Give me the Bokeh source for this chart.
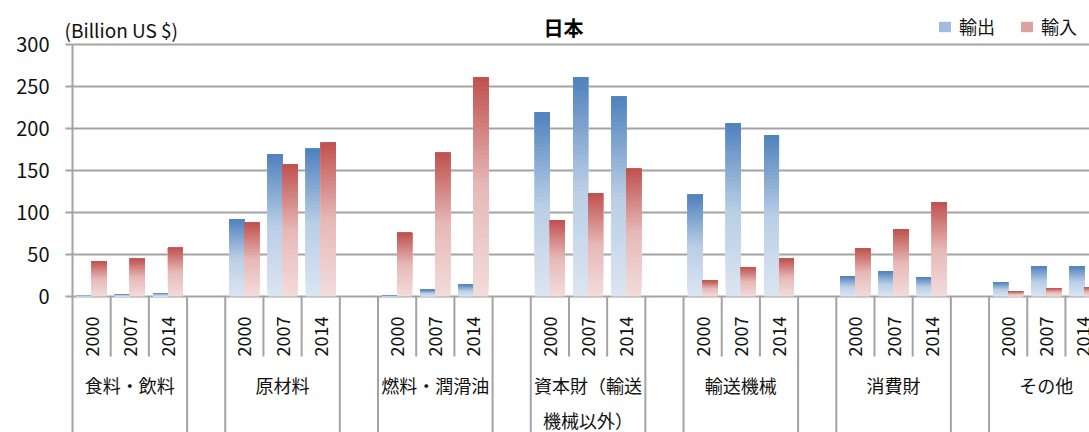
import numpy as np
from math import pi

from bokeh.plotting import figure
from bokeh.models import (ColumnDataSource, Range1d, FixedTicker, Label,
                          Legend, LegendItem)
from bokeh.core.properties import value
from bokeh.embed import file_html
from bokeh.resources import INLINE

# ---- data (Billion US $) -------------------------------------------------
categories = ["食料・飲料", "原材料", "燃料・潤滑油", "資本財（輸送\n機械以外）",
              "輸送機械", "消費財", "その他"]
years = ["2000", "2007", "2014"]

# values listed category by category, years 2000 / 2007 / 2014
exports = [1, 3, 4,
           92, 169, 176,
           1, 8, 14,
           219, 261, 238,
           121, 206, 192,
           24, 30, 23,
           17, 36, 36]
imports = [42, 45, 58,
           88, 157, 183,
           76, 171, 261,
           91, 123, 152,
           19, 35, 45,
           57, 80, 112,
           6, 10, 11]

y_ticks = [0, 50, 100, 150, 200, 250, 300]

# ---- layout constants ----------------------------------------------------
W, H = 1089, 432
LEFT = 72          # pixel x of the value axis
SLOT_PX = 38.19    # width of one year slot
ZERO_PX = 296      # pixel y of the zero line
PX_PER_UNIT = 0.84
STRIDE = len(years) + 1   # three years plus one empty spacer slot
BAR_W = 15 / SLOT_PX
N_LAYERS = 48

FONT = "Noto Sans CJK JP"
GRID = "#A3A3A3"
INK = "#111111"

# the frame covers the whole canvas; the value axis sits at x = 0
x_range = Range1d(-LEFT / SLOT_PX, (W - LEFT) / SLOT_PX)
y_bottom = -(H - ZERO_PX) / PX_PER_UNIT
y_range = Range1d(y_bottom, ZERO_PX / PX_PER_UNIT)

n_cat, n_year = len(categories), len(years)
slot_idx = np.array([STRIDE * g + k for g in range(n_cat) for k in range(n_year)])
centers = slot_idx + 0.5

BLUE_STOPS = [(0.0, (220, 230, 242)), (0.5, (185, 205, 229)), (1.0, (79, 129, 189))]
RED_STOPS = [(0.0, (242, 220, 219)), (0.5, (230, 185, 184)), (1.0, (192, 80, 77))]


def shade(stops, f):
    for (f0, c0), (f1, c1) in zip(stops[:-1], stops[1:]):
        if f <= f1:
            t = (f - f0) / (f1 - f0)
            rgb = [round(a + (b - a) * t) for a, b in zip(c0, c1)]
            return "#%02x%02x%02x" % tuple(rgb)
    return "#%02x%02x%02x" % stops[-1][1]


def gradient_source(vals, offset, stops):
    """Each bar is painted as stacked layers, pale at the base, dark at the top."""
    vals = np.asarray(vals, dtype=float)
    xs, bottoms, tops, colors = [], [], [], []
    for j in range(N_LAYERS):
        col = shade(stops, (j + 0.5) / N_LAYERS)
        xs.extend(centers + offset)
        bottoms.extend(vals * j / N_LAYERS)
        tops.extend(vals)
        colors.extend([col] * len(vals))
    return ColumnDataSource(dict(x=xs, bottom=bottoms, top=tops, color=colors))


p = figure(width=W, height=H, x_range=x_range, y_range=y_range,
           output_backend="svg", toolbar_location=None, title=None,
           min_border=0, outline_line_color=None,
           background_fill_color="white", border_fill_color="white")
p.xgrid.visible = False
p.ygrid.visible = False

# horizontal value gridlines, starting at the value axis
x_end = (W - LEFT) / SLOT_PX
p.segment(x0=np.zeros(len(y_ticks)), y0=y_ticks, x1=np.full(len(y_ticks), x_end),
          y1=y_ticks, line_color=GRID, line_width=2)

src_exp = gradient_source(exports, -BAR_W / 2, BLUE_STOPS)
src_imp = gradient_source(imports, BAR_W / 2, RED_STOPS)
r_exp = p.vbar(x="x", width=BAR_W, bottom="bottom", top="top", source=src_exp,
               fill_color="color", line_color=None)
r_imp = p.vbar(x="x", width=BAR_W, bottom="bottom", top="top", source=src_imp,
               fill_color="color", line_color=None)

# ---- value axis ----------------------------------------------------------
p.yaxis.fixed_location = 0
p.yaxis.ticker = FixedTicker(ticks=y_ticks, minor_ticks=[])
p.yaxis.bounds = (y_bottom, max(y_ticks))
p.yaxis.axis_line_color = GRID
p.yaxis.axis_line_width = 2
p.yaxis.major_tick_line_color = GRID
p.yaxis.major_tick_line_width = 2
p.yaxis.major_tick_out = 7
p.yaxis.major_tick_in = 0
p.yaxis.minor_tick_line_color = None
p.yaxis.major_label_standoff = 16
p.yaxis.major_label_text_font = FONT
p.yaxis.major_label_text_font_size = "20px"
p.yaxis.major_label_text_color = INK

# ---- category axis: year labels under the zero line -----------------------
p.xaxis.fixed_location = 0
p.xaxis.ticker = FixedTicker(ticks=list(centers), minor_ticks=[])
p.xaxis.major_label_overrides = {float(c): years[i % n_year] for i, c in enumerate(centers)}
p.xaxis.major_label_orientation = pi / 2
p.xaxis.axis_line_color = None
p.xaxis.major_tick_line_color = None
p.xaxis.minor_tick_line_color = None
p.xaxis.major_label_standoff = 14
p.xaxis.major_label_text_font = FONT
p.xaxis.major_label_text_font_size = "18px"
p.xaxis.major_label_text_color = INK

# slot separators: short between years, full height around each category
edges = np.arange(1, STRIDE * n_cat)
inner = np.isin(edges % STRIDE, [1, 2])
short_end = -(356 - ZERO_PX) / PX_PER_UNIT
p.segment(x0=edges, y0=np.zeros(len(edges)), x1=edges,
          y1=np.where(inner, short_end, y_bottom),
          line_color=GRID, line_width=2)

# category names
group_centers = np.arange(n_cat) * STRIDE + (n_year / 2)
p.text(x=group_centers, y=np.full(n_cat, -(371 - ZERO_PX) / PX_PER_UNIT),
       text=categories, text_align="center", text_baseline="top",
       text_line_height=1.38, text_font=value(FONT), text_font_size="18px",
       text_color=INK)

# ---- header texts --------------------------------------------------------
p.add_layout(Label(x=(563 - LEFT) / SLOT_PX, y=(ZERO_PX - 27) / PX_PER_UNIT,
                   text="日本", text_align="center", text_baseline="middle",
                   text_font=FONT, text_font_size="20px", text_font_style="bold",
                   text_color="#000000"))
p.add_layout(Label(x=(64 - LEFT) / SLOT_PX, y=(ZERO_PX - 29) / PX_PER_UNIT,
                   text="(Billion US $)", text_align="left", text_baseline="middle",
                   text_font=FONT, text_font_size="19px", text_color=INK))

# ---- legend --------------------------------------------------------------
swatch_row = int(0.62 * N_LAYERS) * len(exports)
legend = Legend(items=[LegendItem(label="輸出", renderers=[r_exp], index=swatch_row),
                       LegendItem(label="輸入", renderers=[r_imp], index=swatch_row)],
                orientation="horizontal", location=(937, H - 39),
                glyph_width=15, glyph_height=13, label_standoff=7, spacing=24,
                padding=0, margin=0, border_line_color=None,
                background_fill_alpha=0, label_height=20,
                label_text_font=FONT, label_text_font_size="18px",
                label_text_color=INK)
p.add_layout(legend, "center")

open("out.html", "w").write(file_html(p, INLINE))
